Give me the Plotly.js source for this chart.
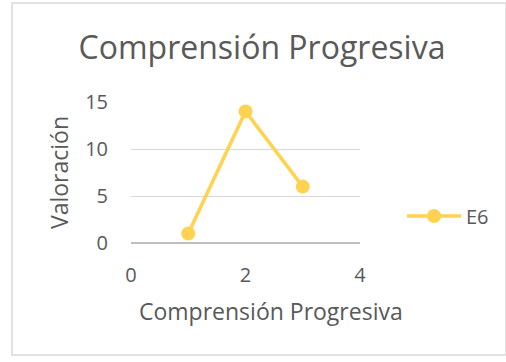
<!DOCTYPE html>
<html>
<head>
<meta charset="utf-8">
<script src="https://cdn.plot.ly/plotly-3.0.1.min.js"></script>
<style>html,body{margin:0;padding:0;background:#fff;}#chart{width:506px;height:362px;}</style>
</head>
<body>
<div id="chart"></div>
<script>
const xValues = [1, 2, 3];
const yValues = [1, 14, 6];
const seriesName = "E6";
const chartTitle = "Comprensión Progresiva";
const xTitle = "Comprensión Progresiva";
const yTitle = "Valoración";

const L = 131, R = 360, T = 102, B = 243, W = 506, H = 362;
const pw = R - L, ph = B - T;
const font = "Open Sans, DejaVu Sans, sans-serif";
const grey = "#595959";

const trace = {
  x: xValues, y: yValues, name: seriesName,
  type: "scatter", mode: "lines+markers",
  line: {color: "#FFD34F", width: 3.5},
  marker: {color: "#FFD34F", size: 14}
};

const layout = {
  width: W, height: H,
  margin: {l: L, r: W - R, t: T, b: H - B, pad: 0},
  paper_bgcolor: "#fff", plot_bgcolor: "#fff",
  font: {family: font, color: grey},
  title: {text: chartTitle, font: {size: 32, color: grey, family: font},
          x: 262 / W, xref: "container", xanchor: "center",
          y: 1 - 48 / H, yref: "container", yanchor: "middle"},
  xaxis: {range: [0, 4], dtick: 2, tick0: 0, showgrid: false, zeroline: false,
          showline: false, ticks: "", tickfont: {size: 20, color: grey}, ticklabelstandoff: 18},
  yaxis: {range: [0, 15], dtick: 5, tick0: 0, showgrid: true, gridcolor: "#D9D9D9", gridwidth: 1,
          zeroline: true, zerolinecolor: "#BFBFBF", zerolinewidth: 1.3, showline: false, ticks: "",
          tickfont: {size: 20, color: grey}, ticklabelstandoff: 22,
          title: {text: yTitle, font: {size: 23, color: grey}, standoff: 10}},
  showlegend: true,
  legend: {x: (402 - L) / pw, xanchor: "left", y: (B - 216) / ph, yanchor: "middle",
           font: {size: 20, color: grey}, bgcolor: "rgba(0,0,0,0)", itemwidth: 54},
  annotations: [{text: xTitle, xref: "paper", yref: "paper", x: (271 - L) / pw, y: (B - 311) / ph,
                 xanchor: "center", yanchor: "middle", showarrow: false, font: {size: 23, color: grey}}],
  shapes: [{type: "rect", xref: "paper", yref: "paper",
            x0: (12 - L) / pw, x1: (506 - L) / pw, y0: (B - 355) / ph, y1: (B - 3) / ph,
            line: {color: "#D9D9D9", width: 1.5}, fillcolor: "rgba(0,0,0,0)", layer: "below"}]
};

Plotly.newPlot("chart", [trace], layout, {displayModeBar: false, staticPlot: true});
</script>
</body>
</html>
